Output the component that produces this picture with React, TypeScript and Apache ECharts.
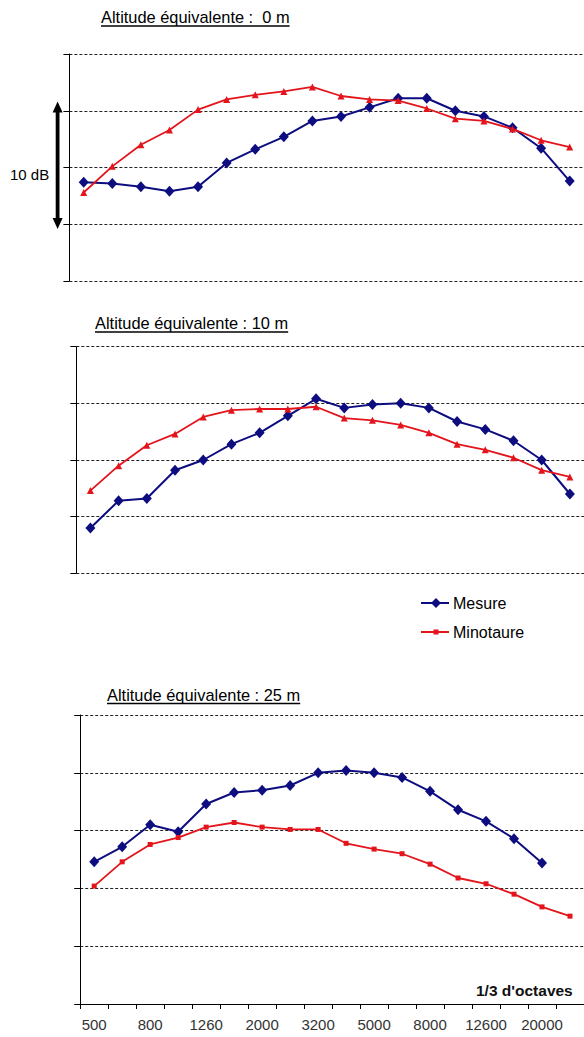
import React, { useEffect, useRef } from "react";
import * as echarts from "echarts";

// 1/3 octave band centre frequencies (Hz)
const bands = ["500", "630", "800", "1000", "1260", "1600", "2000", "2500", "3200", "4000", "5000", "6300", "8000", "10000", "12600", "16000", "20000", "25000"];

// Relative levels (dB, 5 dB per gridline)
const mesure0m = [8.7, 8.6, 8.3, 7.9, 8.3, 10.4, 11.6, 12.7, 14.1, 14.5, 15.3, 16.1, 16.1, 15.0, 14.5, 13.5, 11.7, 8.8];
const minotaure0m = [7.8, 10.1, 12.0, 13.3, 15.1, 16.0, 16.4, 16.7, 17.1, 16.3, 16.0, 15.9, 15.2, 14.3, 14.1, 13.4, 12.4, 11.8];

const mesure10m = [4.0, 6.4, 6.6, 9.1, 10.0, 11.4, 12.4, 13.9, 15.4, 14.6, 14.9, 15.0, 14.6, 13.4, 12.7, 11.7, 10.0, 7.0];
const minotaure10m = [7.3, 9.5, 11.3, 12.3, 13.8, 14.4, 14.5, 14.5, 14.7, 13.7, 13.5, 13.1, 12.4, 11.4, 10.9, 10.2, 9.1, 8.5];

const mesure25m = [12.3, 13.6, 15.5, 14.9, 17.3, 18.3, 18.5, 18.9, 20.0, 20.2, 20.0, 19.6, 18.4, 16.8, 15.8, 14.3, 12.2, null];
const minotaure25m = [10.2, 12.3, 13.8, 14.4, 15.3, 15.7, 15.3, 15.1, 15.1, 13.9, 13.4, 13.0, 12.1, 10.9, 10.4, 9.5, 8.4, 7.6];

const yMax = [20, 20, 25];
const titles = ["Altitude équivalente :  0 m", "Altitude équivalente : 10 m", "Altitude équivalente : 25 m"];
const seriesNames = ["Mesure", "Minotaure"];
const axisTitle = "1/3 d'octaves";
const arrowLabel = "10 dB";

const BLUE = "#0d0d80";
const RED = "#e3141b";
const FONT = "'Liberation Sans', Arial, sans-serif";

export default function App() {
  const ref = useRef<HTMLDivElement>(null);

  useEffect(() => {
    if (!ref.current) return;
    const chart = echarts.init(ref.current, undefined, { renderer: "svg" });

    const ctx = document.createElement("canvas").getContext("2d");
    const measure = (t: string, size: number, weight = "normal") => {
      if (!ctx) return t.length * size * 0.5;
      ctx.font = `${weight} ${size}px 'Liberation Sans'`;
      return ctx.measureText(t).width;
    };

    const grids = [
      { left: 69.4, top: 54, width: 518.6, height: 227 },
      { left: 76.3, top: 346.7, width: 512, height: 226.6 },
      { left: 80.2, top: 715, width: 504, height: 289 },
    ];

    const mesure = [mesure0m, mesure10m, mesure25m];
    const minotaure = [minotaure0m, minotaure10m, minotaure25m];

    const xAxis = grids.map((_, i) => ({
      type: "category",
      gridIndex: i,
      data: bands,
      boundaryGap: true,
      show: i === 2,
      axisLine: { show: true, lineStyle: { color: "#000", width: 1 } },
      axisTick: { show: true, interval: 0, length: 5, lineStyle: { color: "#000" } },
      axisLabel: { interval: 1, fontSize: 15, color: "#333", margin: 13, fontFamily: FONT },
      splitLine: { show: false },
    }));

    const yAxis = grids.map((_, i) => ({
      type: "value",
      gridIndex: i,
      min: 0,
      max: yMax[i],
      interval: 5,
      axisLine: { show: true, lineStyle: { color: "#000", width: 1 } },
      axisTick: { show: true, inside: false, length: 6, lineStyle: { color: "#000" } },
      axisLabel: { show: false },
      splitLine: { show: true, lineStyle: { color: "#222", type: [3, 2], width: 1 } },
    }));

    const series: any[] = [];
    grids.forEach((_, i) => {
      series.push({
        type: "line",
        name: seriesNames[0],
        xAxisIndex: i,
        yAxisIndex: i,
        data: mesure[i],
        symbol: "diamond",
        symbolSize: [10, 11],
        lineStyle: { color: BLUE, width: 2 },
        itemStyle: { color: BLUE },
        z: 2,
      });
      series.push({
        type: "line",
        name: seriesNames[1],
        xAxisIndex: i,
        yAxisIndex: i,
        data: minotaure[i],
        symbol: i < 2 ? "triangle" : "rect",
        symbolSize: i < 2 ? 7 : 5,
        lineStyle: { color: RED, width: 1.8 },
        itemStyle: { color: RED },
        z: 3,
      });
    });

    const titlePos = [
      { x: 101, y: 17.3, u: 26 },
      { x: 95, y: 323.4, u: 332 },
      { x: 107, y: 694.5, u: 703.5 },
    ];
    const titleSize = 16.4;

    const graphic: any[] = [];
    titles.forEach((t, i) => {
      const p = titlePos[i];
      const w = measure(t, titleSize);
      graphic.push({
        type: "text",
        x: p.x,
        y: p.y,
        style: { text: t, fontSize: titleSize, fontFamily: FONT, fill: "#000", align: "left", verticalAlign: "middle" },
      });
      graphic.push({
        type: "line",
        shape: { x1: p.x, y1: p.u, x2: p.x + w, y2: p.u },
        style: { stroke: "#000", lineWidth: 1.3 },
      });
    });

    // double-headed 10 dB arrow
    const ax = 57.6;
    const top = 101.5;
    const bot = 229;
    const hw = 5;
    const hh = 11;
    const sw = 1.9;
    graphic.push({
      type: "polygon",
      shape: {
        points: [
          [ax, top],
          [ax + hw, top + hh],
          [ax + sw, top + hh],
          [ax + sw, bot - hh],
          [ax + hw, bot - hh],
          [ax, bot],
          [ax - hw, bot - hh],
          [ax - sw, bot - hh],
          [ax - sw, top + hh],
          [ax - hw, top + hh],
        ],
      },
      style: { fill: "#000" },
    });
    graphic.push({
      type: "text",
      x: 10,
      y: 174,
      style: { text: arrowLabel, fontSize: 15, fontFamily: FONT, fill: "#000", align: "left", verticalAlign: "middle" },
    });

    // legend
    const legendRows = [
      { y: 603, color: BLUE, name: seriesNames[0], marker: "diamond" },
      { y: 632, color: RED, name: seriesNames[1], marker: "square" },
    ];
    legendRows.forEach((r) => {
      graphic.push({
        type: "line",
        shape: { x1: 421, y1: r.y, x2: 449, y2: r.y },
        style: { stroke: r.color, lineWidth: 2 },
      });
      if (r.marker === "diamond") {
        graphic.push({
          type: "polygon",
          shape: { points: [[436, r.y - 5], [441, r.y], [436, r.y + 5], [431, r.y]] },
          style: { fill: r.color },
        });
      } else {
        graphic.push({
          type: "rect",
          shape: { x: 433.5, y: r.y - 2.5, width: 5, height: 5 },
          style: { fill: r.color },
        });
      }
      graphic.push({
        type: "text",
        x: 453,
        y: r.y,
        style: { text: r.name, fontSize: 16, fontFamily: FONT, fill: "#000", align: "left", verticalAlign: "middle" },
      });
    });

    graphic.push({
      type: "text",
      x: 476,
      y: 990,
      style: { text: axisTitle, fontSize: 15.5, fontWeight: "bold", fontFamily: FONT, fill: "#111", align: "left", verticalAlign: "middle" },
    });

    chart.setOption({
      animation: false,
      backgroundColor: "#fff",
      textStyle: { fontFamily: FONT },
      grid: grids.map((g) => ({ ...g, containLabel: false })),
      xAxis,
      yAxis,
      series,
      graphic,
    });

    return () => chart.dispose();
  }, []);

  return <div ref={ref} style={{ position: "absolute", left: 0, top: 0, width: 584, height: 1037 }} />;
}
